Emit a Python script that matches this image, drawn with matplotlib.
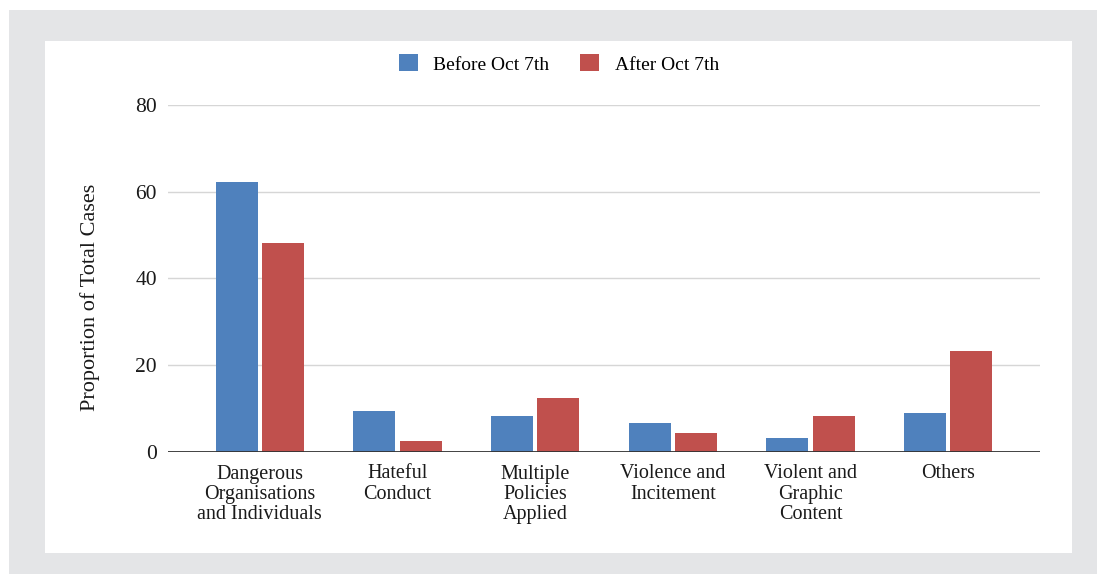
import matplotlib
matplotlib.use("Agg")
import matplotlib.pyplot as plt
from matplotlib.patches import Rectangle, Patch
import numpy as np

categories = [
    "Dangerous\nOrganisations\nand Individuals",
    "Hateful\nConduct",
    "Multiple\nPolicies\nApplied",
    "Violence and\nIncitement",
    "Violent and\nGraphic\nContent",
    "Others",
]
before_oct7 = [62.3, 9.4, 8.3, 6.7, 3.2, 9.0]
after_oct7 = [48.2, 2.5, 12.4, 4.4, 8.3, 23.3]
series_names = ["Before Oct 7th", "After Oct 7th"]
y_ticks = [0, 20, 40, 60, 80]

BLUE = "#4F81BD"
RED = "#C0504D"
FRAME = "#E4E5E7"

plt.rcParams["font.family"] = ["Liberation Serif", "DejaVu Serif"]

W, H = 1097, 574
fig = plt.figure(figsize=(W / 100, H / 100), dpi=100)
fig.patch.set_facecolor("white")

# grey frame with white panel inside
fig.patches.append(Rectangle((9 / W, 0), 1 - 9 / W, (H - 10) / H,
                             transform=fig.transFigure, facecolor=FRAME,
                             edgecolor="none", zorder=-2))
fig.patches.append(Rectangle((45 / W, (H - 553) / H), (1072 - 45) / W, (553 - 41) / H,
                             transform=fig.transFigure, facecolor="white",
                             edgecolor="none", zorder=-1))

ax = fig.add_axes([168 / W, (H - 452) / H, (1040 - 168) / W, (452 - 105) / H])
ax.set_facecolor("none")

x = np.arange(len(categories))
bw = 0.305
off = bw / 2 + 0.015
ax.bar(x - off, before_oct7, bw, color=BLUE, zorder=3)
ax.bar(x + off, after_oct7, bw, color=RED, zorder=3)

ax.set_ylim(0, 80)
ax.set_xlim(-0.667, len(categories) - 1 + 0.667)
ax.set_yticks(y_ticks)
ax.set_yticklabels([str(t) for t in y_ticks], fontsize=15.5, color="#1a1a1a")
ax.set_xticks(x)
ax.set_xticklabels(categories, fontsize=14.5, color="#1a1a1a", linespacing=1.1)
ax.tick_params(axis="both", length=0)
ax.tick_params(axis="y", pad=8)
ax.tick_params(axis="x", pad=9)

for t in y_ticks[1:]:
    ax.axhline(t, color="#D6D6D6", linewidth=1.0, zorder=1)
ax.axhline(0, color="#333333", linewidth=1.3, zorder=4)

for s in ax.spines.values():
    s.set_visible(False)

ax.set_ylabel("Proportion of Total Cases", fontsize=16, color="#1a1a1a")
ax.yaxis.set_label_coords(-0.0775, 0.447)

handles = [Patch(facecolor=BLUE, edgecolor="none"), Patch(facecolor=RED, edgecolor="none")]
fig.legend(handles, series_names, loc="center", bbox_to_anchor=(559 / W, (H - 64) / H),
           ncol=2, frameon=False, fontsize=14, handlelength=0.95, handleheight=0.95,
           handletextpad=0.8, columnspacing=1.6)

fig.savefig("out.png", dpi=100)
